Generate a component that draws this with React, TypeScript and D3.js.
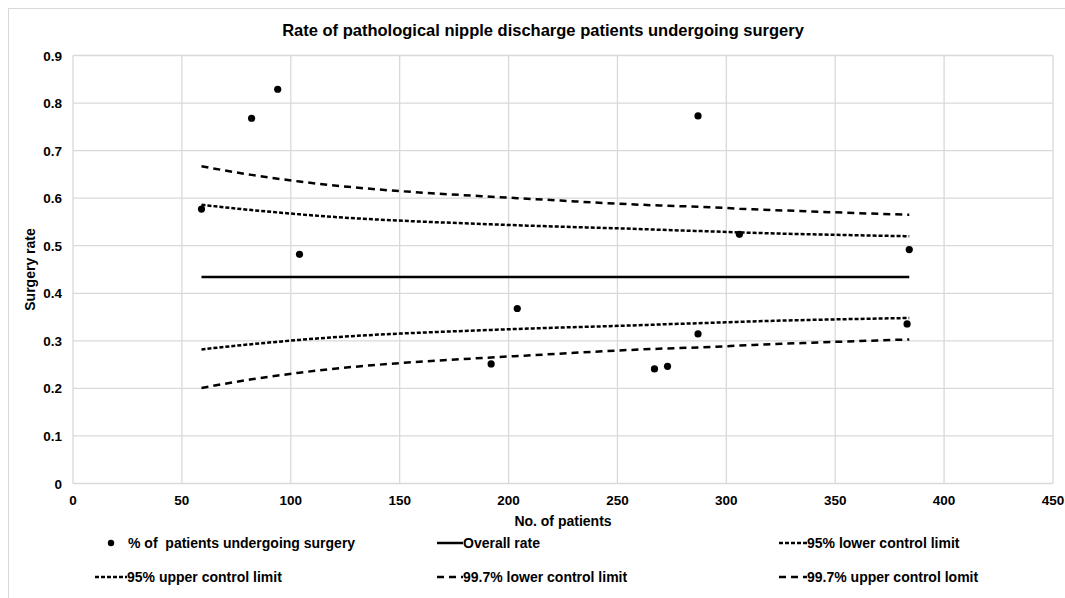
import React from 'react';
import * as d3 from 'd3';

// observed proportion per unit
const patients = [59, 82, 94, 104, 192, 204, 267, 273, 287, 287, 306, 383, 384];
const surgeryRate = [0.577, 0.768, 0.829, 0.482, 0.2515, 0.368, 0.241, 0.2465, 0.773, 0.3145, 0.524, 0.3355, 0.492];

// funnel limits at each patient count
const limitN = [59, 82, 94, 104, 192, 204, 267, 273, 287, 306, 384];
const overallRate = [0.434, 0.434, 0.434, 0.434, 0.434, 0.434, 0.434, 0.434, 0.434, 0.434, 0.434];
const lower95 = [0.282, 0.293, 0.298, 0.302, 0.323, 0.325, 0.334, 0.335, 0.337, 0.340, 0.348];
const upper95 = [0.586, 0.575, 0.570, 0.566, 0.545, 0.543, 0.534, 0.533, 0.531, 0.528, 0.520];
const lower997 = [0.201, 0.219, 0.227, 0.233, 0.265, 0.268, 0.283, 0.284, 0.286, 0.290, 0.303];
const upper997 = [0.667, 0.649, 0.641, 0.635, 0.603, 0.600, 0.585, 0.584, 0.582, 0.578, 0.565];

const xTicks = [0, 50, 100, 150, 200, 250, 300, 350, 400, 450];
const yTicks = [0, 0.1, 0.2, 0.3, 0.4, 0.5, 0.6, 0.7, 0.8, 0.9];

const W = 1065;
const H = 598;
const FONT = 'Liberation Sans, Arial, sans-serif';
const SHORT_DASH = '4,2';
const LONG_DASH = '7,5';

export default function App() {
  const x = d3.scaleLinear().domain([0, 450]).range([73, 1053]);
  const y = d3.scaleLinear().domain([0, 0.9]).range([483.5, 55.5]);

  const line = (vals: number[]) =>
    d3.line<number>()
      .x((_, i) => x(limitN[i]))
      .y(d => y(d))
      .curve(d3.curveMonotoneX)(vals) || '';

  const limits = [
    { vals: overallRate, dash: undefined as string | undefined },
    { vals: lower95, dash: SHORT_DASH },
    { vals: upper95, dash: SHORT_DASH },
    { vals: lower997, dash: LONG_DASH },
    { vals: upper997, dash: LONG_DASH },
  ];

  const legend = [
    { label: '% of  patients undergoing surgery', kind: 'dot', lx: 111, tx: 128, ly: 543 },
    { label: 'Overall rate', kind: 'solid', lx: 437, tx: 463, ly: 543 },
    { label: '95% lower control limit', kind: 'short', lx: 779, tx: 807, ly: 543 },
    { label: '95% upper control limit', kind: 'short', lx: 95, tx: 127, ly: 577 },
    { label: '99.7% lower control limit', kind: 'long', lx: 437, tx: 463, ly: 577 },
    { label: '99.7% upper control lomit', kind: 'long', lx: 779, tx: 807, ly: 577 },
  ];

  return (
    <svg width={W} height={H} style={{ position: 'absolute', left: 0, top: 0 }} fontFamily={FONT}>
      <rect x={0} y={0} width={W} height={H} fill="#fff" />
      <rect x={8.5} y={8.5} width={W + 10} height={H + 10} fill="none" stroke="#d9d9d9" strokeWidth={1} />

      <text x={543} y={36} textAnchor="middle" fontSize={16.5} fontWeight="bold">
        Rate of pathological nipple discharge patients undergoing surgery
      </text>

      {/* grid */}
      {xTicks.map(t => (
        <line key={'gx' + t} x1={x(t)} x2={x(t)} y1={y(0)} y2={y(0.9)} stroke="#d9d9d9" strokeWidth={1.3} />
      ))}
      {yTicks.map(t => (
        <line key={'gy' + t} x1={x(0)} x2={x(450)} y1={y(t)} y2={y(t)} stroke="#d9d9d9" strokeWidth={1.3} />
      ))}

      {/* tick labels */}
      {yTicks.map(t => (
        <text key={'ty' + t} x={62} y={y(t) + 5} textAnchor="end" fontSize={13.5} fontWeight="bold">
          {t === 0 ? '0' : d3.format('.1f')(t)}
        </text>
      ))}
      {xTicks.map(t => (
        <text key={'tx' + t} x={x(t)} y={505} textAnchor="middle" fontSize={13.5} fontWeight="bold">
          {t}
        </text>
      ))}

      <text transform={`translate(35,${y(0.45)}) rotate(-90)`} textAnchor="middle" fontSize={14} fontWeight="bold">
        Surgery rate
      </text>
      <text x={(x(0) + x(450)) / 2} y={526} textAnchor="middle" fontSize={14} fontWeight="bold">
        No. of patients
      </text>

      {/* limit lines */}
      {limits.map((l, i) => (
        <path key={'l' + i} d={line(l.vals)} fill="none" stroke="#000" strokeWidth={2.5} strokeDasharray={l.dash} />
      ))}

      {/* points */}
      {patients.map((n, i) => (
        <circle key={'p' + i} cx={x(n)} cy={y(surgeryRate[i])} r={3.6} fill="#000" />
      ))}

      {/* legend */}
      {legend.map((g, i) => (
        <g key={'lg' + i}>
          {g.kind === 'dot' ? (
            <circle cx={g.lx} cy={g.ly} r={3.2} fill="#000" />
          ) : (
            <line x1={g.lx} x2={g.tx} y1={g.ly} y2={g.ly} stroke="#000" strokeWidth={2.5}
              strokeDasharray={g.kind === 'short' ? SHORT_DASH : g.kind === 'long' ? LONG_DASH : undefined} />
          )}
          <text x={g.tx} y={g.ly + 5} fontSize={14} fontWeight="bold" style={{ whiteSpace: 'pre' }}>{g.label}</text>
        </g>
      ))}
    </svg>
  );
}
